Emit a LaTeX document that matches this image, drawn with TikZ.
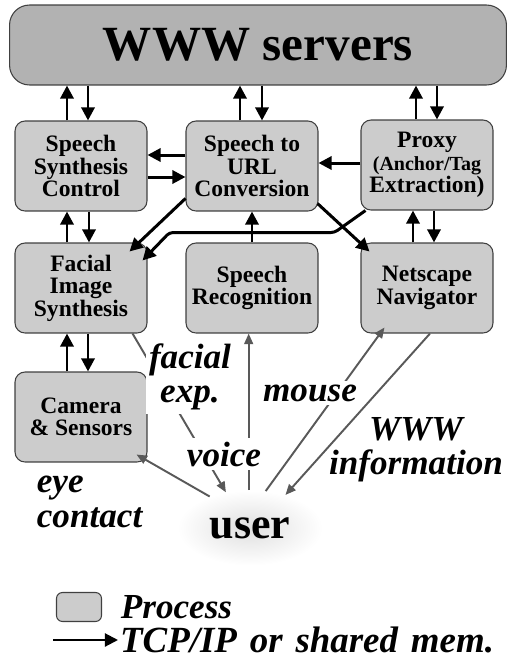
\documentclass[tikz,border=0pt]{standalone}
\usepackage{fontspec}
\setmainfont{Liberation Serif}
\usetikzlibrary{arrows.meta,shapes.geometric,positioning}

\tikzset{
  process/.style={draw=black!75, line width=0.6pt, fill=gray!40, rounded corners=0.2cm,
    minimum width=2.64cm, minimum height=1.8cm, align=center, inner sep=1pt,
    font=\fontsize{13.4}{12.8}\selectfont\bfseries},
  tcp/.style={line width=1.7pt, -{Triangle[length=7.5pt,width=7.5pt]}},
  act/.style={black!65, line width=1.1pt, -{Triangle[length=6pt,width=5pt]}},
  lbl/.style={font=\fontsize{20}{19.5}\selectfont\bfseries\itshape, align=center,
    fill=white, inner sep=2pt}
}

\begin{document}
\begin{tikzpicture}[x=0.02cm, y=-0.02cm]
  \useasboundingbox (0,0) rectangle (517,664);

  % Define nodes
  \node[process, fill=gray!60, minimum width=9.94cm, minimum height=1.6cm,
    rounded corners=0.4cm, font=\fontsize{28}{28}\selectfont\bfseries] (www) at (258,45) {WWW servers};
  \node[process] (ssc)   at (81,166)  {Speech\\Synthesis\\Control};
  \node[process] (s2u)   at (252,166) {Speech to\\URL\\Conversion};
  \node[process] (proxy) at (427,165) {Proxy\\\fontsize{11.4}{11.3}\selectfont(Anchor/Tag\\Extraction)};
  \node[process] (fis)   at (81,288)  {Facial\\Image\\Synthesis};
  \node[process] (sr)    at (252,288) {Speech\\Recognition};
  \node[process] (nav)   at (427,288) {Netscape\\Navigator};
  \node[process] (cam)   at (81,417)  {Camera\\\& Sensors};
  \node[ellipse, shade, inner color=gray!25, outer color=white, minimum width=2.9cm,
    minimum height=1.5cm, font=\fontsize{25}{25}\selectfont\bfseries] (user) at (250,528) {user};

  % Connect the nodes
  \draw[tcp] (67,0 |- ssc.north) -- (67,0 |- www.south);
  \draw[tcp] (88,0 |- www.south) -- (88,0 |- ssc.north);
  \draw[tcp] (240,0 |- s2u.north) -- (240,0 |- www.south);
  \draw[tcp] (262,0 |- www.south) -- (262,0 |- s2u.north);
  \draw[tcp] (416,0 |- proxy.north) -- (416,0 |- www.south);
  \draw[tcp] (437,0 |- www.south) -- (437,0 |- proxy.north);
  \draw[tcp] (s2u.west |- 0,155) -- (ssc.east |- 0,155);
  \draw[tcp] (ssc.east |- 0,177) -- (s2u.west |- 0,177);
  \draw[tcp] (proxy.west |- 0,163) -- (s2u.east |- 0,163);
  \draw[tcp] (67,0 |- fis.north) -- (67,0 |- ssc.south);
  \draw[tcp] (89,0 |- ssc.south) -- (89,0 |- fis.north);
  \draw[tcp] (252,0 |- sr.north) -- (252,0 |- s2u.south);
  \draw[tcp] (413,0 |- nav.north) -- (413,0 |- proxy.south);
  \draw[tcp] (434,0 |- proxy.south) -- (434,0 |- nav.north);
  \draw[tcp] (67,0 |- cam.north) -- (67,0 |- fis.south);
  \draw[tcp] (88,0 |- fis.south) -- (88,0 |- cam.north);
  \draw[tcp] (s2u.206) -- ([shift={(-18,9)}]fis.north east);
  \draw[tcp] ([shift={(-1,-8)}]s2u.south east) -- ([shift={(9,9)}]nav.north west);
  \draw[tcp, rounded corners=2pt] ([shift={(5,0)}]proxy.south west) -- ++(-31,22) -- ++(-165,0)
    -- ([shift={(-5,18)}]fis.north east);

  % user actions
  \draw[act] ([shift={(-15,0)}]fis.south east) -- (user.124);
  \draw[act] (user.92) -- (user.92 |- sr.south);
  \draw[act] (user.67) -- ([shift={(24,-6)}]nav.south west);
  \draw[act] ([shift={(3,0)}]nav.south) -- (user.43);
  \draw[act] (user.142) -- ([shift={(-11,-8)}]cam.south east);
  \node[lbl] at (190,377) {facial\\exp.};
  \node[lbl] at (224,454) {voice};
  \node[lbl] at (310,393) {mouse};
  \node[lbl, fill=none] at (416,450) {WWW\\information};
  \node[lbl, fill=none, align=left, anchor=west] at (33,502) {eye\\contact};

  % legend
  \node[process, minimum width=0.9cm, minimum height=0.58cm, rounded corners=0.12cm] (key) at (79,607) {};
  \node[lbl, fill=none, right=0.3cm of key] {Process};
  \coordinate (k1) at (53,640);
  \draw[tcp, line width=1.2pt] (k1) -- ++(65,0) coordinate (k2);
  \node[lbl, fill=none, anchor=west, inner sep=1pt, font=\fontsize{21}{21}\selectfont\bfseries\itshape]
    at (k2) {\spaceskip=0.35em\relax TCP/IP or shared mem.};
\end{tikzpicture}
\end{document}
